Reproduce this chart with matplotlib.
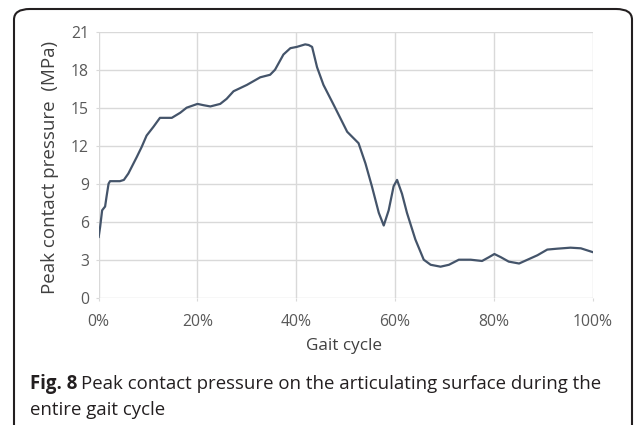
import numpy as np
import matplotlib
matplotlib.use("Agg")
import matplotlib.pyplot as plt
from matplotlib.patches import FancyBboxPatch

# Gait cycle (%) and peak contact pressure (MPa)
gait = [0, 0.3, 0.7, 1.3, 1.6, 2.0, 2.3, 4.3, 5.1, 6.0, 7.7, 8.7, 9.7, 11.1, 12.4,
        14.8, 16.5, 17.8, 20.0, 21.2, 22.6, 24.6, 25.9, 27.3, 30.0, 32.7, 34.7,
        35.7, 37.4, 38.8, 40.1, 41.8, 42.5, 43.2, 44.2, 45.5, 47.6, 50.3, 52.6,
        54.0, 55.3, 56.7, 57.7, 58.7, 59.7, 60.4, 61.4, 62.4, 64.1, 65.8, 67.2,
        69.2, 70.9, 72.9, 75.3, 77.6, 79.0, 80.1, 81.4, 83.0, 85.1, 86.8, 88.8,
        90.8, 92.8, 95.5, 97.6, 100]
pressure = [4.8, 5.6, 6.9, 7.2, 8.0, 9.0, 9.2, 9.2, 9.3, 9.8, 11.1, 11.9, 12.8, 13.5, 14.2,
            14.2, 14.6, 15.0, 15.3, 15.2, 15.1, 15.3, 15.7, 16.3, 16.8, 17.4, 17.6,
            18.0, 19.2, 19.7, 19.8, 20.0, 19.95, 19.8, 18.2, 16.8, 15.2, 13.1, 12.2,
            10.6, 8.8, 6.7, 5.7, 6.9, 8.8, 9.3, 8.2, 6.7, 4.6, 3.0, 2.6,
            2.45, 2.6, 3.0, 3.0, 2.9, 3.2, 3.45, 3.2, 2.85, 2.7, 3.0, 3.35,
            3.8, 3.87, 3.95, 3.9, 3.6]

x_ticks = [0, 20, 40, 60, 80, 100]
y_ticks = [0, 3, 6, 9, 12, 15, 18, 21]

plt.rcParams['font.family'] = ['Open Sans', 'DejaVu Sans']

fig = plt.figure(figsize=(6.35, 4.25), dpi=100)
ax = fig.add_axes([0.1554, 0.2995, 0.778, 0.6259])

ax.plot(gait, pressure, color='#44546a', lw=1.6, solid_joinstyle='round')

ax.set_xlim(0, 100)
ax.set_ylim(0, 21)
ax.set_xticks(x_ticks)
ax.set_xticklabels([str(t) + '%' for t in x_ticks])
ax.set_yticks(y_ticks)
ax.grid(True, color='#d9d9d9', lw=1.0)
ax.set_axisbelow(True)
for s in ax.spines.values():
    s.set_visible(False)
ax.tick_params(axis='both', colors='#d9d9d9', length=2, labelcolor='#595959', labelsize=11.3)
ax.tick_params(axis='x', pad=10)
ax.tick_params(axis='y', pad=5)

ax.set_ylabel('Peak contact pressure  (MPa)', fontsize=13.5, color='#404040')
ax.yaxis.set_label_coords(-0.08, 0.49)
fig.text(344 / 635, 1 - 346 / 425, 'Gait cycle', ha='center', va='center',
         fontsize=12.3, color='#404040')

# caption: bold "Fig. 8" followed by the normal text
cap_y = 1 - 384 / 425
bold = fig.text(30 / 635, cap_y, 'Fig. 8', fontsize=13.4, fontweight='bold',
                color='#231f20', va='center')
fig.canvas.draw()
bb = bold.get_window_extent()
fig.text((bb.x1 + 4) / 635, cap_y, 'Peak contact pressure on the articulating surface during the',
         fontsize=13.4, color='#231f20', va='center')
fig.text(30 / 635, 1 - 410 / 425, 'entire gait cycle', fontsize=13.4, color='#231f20', va='center')

# rounded frame around the figure panel
box = FancyBboxPatch((14 / 635, -0.2), (632 - 14) / 635, 1.2 - 9 / 425,
                     boxstyle='round,pad=0,rounding_size=0.025',
                     transform=fig.transFigure, fill=False, ec='#231f20', lw=1.5)
fig.patches.append(box)

fig.savefig('out.png', dpi=100)
